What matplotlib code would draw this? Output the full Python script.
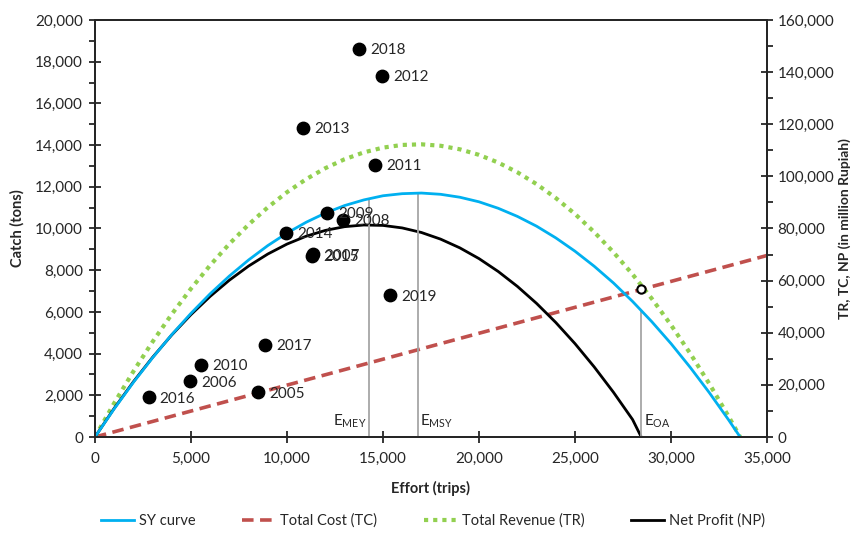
import matplotlib
matplotlib.use("Agg")
import matplotlib.pyplot as plt
from matplotlib.ticker import FuncFormatter, MultipleLocator

plt.rcParams["font.family"] = ["Lato", "DejaVu Sans"]
plt.rcParams["mathtext.fontset"] = "custom"
plt.rcParams["mathtext.rm"] = "Lato"
plt.rcParams["mathtext.it"] = "Lato:italic"
plt.rcParams["mathtext.bf"] = "Lato:bold"

# observed effort / catch by year
years = [2005, 2006, 2007, 2008, 2009, 2010, 2011, 2012, 2013, 2014,
         2015, 2016, 2017, 2018, 2019]
effort = [8500, 4970, 11340, 12920, 12070, 5530, 14600, 14960, 10850, 9970,
          11300, 2790, 8840, 13770, 15380]
catch = [2140, 2670, 8760, 10410, 10760, 3470, 13060, 17330, 14840, 9780,
         8700, 1900, 4430, 18620, 6790]

# model curves (effort grid in trips)
grid = [0, 1000, 2000, 3000, 4000, 5000, 6000, 7000, 8000, 9000, 10000,
        11000, 12000, 13000, 14000, 15000, 16000, 17000, 18000, 19000, 20000,
        21000, 22000, 23000, 24000, 25000, 26000, 27000, 28000, 29000, 30000,
        31000, 32000, 33000, 33600]
sy_catch = [0, 1350, 2620, 3800, 4910, 5930, 6870, 7720, 8490, 9180, 9780,
            10300, 10740, 11100, 11370, 11570, 11670, 11700, 11640, 11500, 11280,
            10970, 10580, 10110, 9550, 8910, 8190, 7390, 6500, 5530, 4480,
            3340, 2120, 820, 0]
tr_value = [0, 12970, 25150, 36530, 47120, 56910, 65900, 74100, 81500, 88110,
            93920, 98930, 103150, 106570, 109200, 111030, 112060, 112300, 111740,
            110390, 108250, 105300, 101560, 97020, 91690, 85570, 78630, 70920,
            62400, 53090, 42980, 32070, 20370, 7880, 0]
np_grid = [0, 1000, 2000, 3000, 4000, 5000, 6000, 7000, 8000, 9000, 10000,
           11000, 12000, 13000, 14000, 15000, 16000, 17000, 18000, 19000, 20000,
           21000, 22000, 23000, 24000, 25000, 26000, 27000, 28000, 28450]
np_value = [0, 10980, 21170, 30560, 39160, 46960, 53960, 60170, 65580, 70200,
            74020, 77040, 79270, 80700, 81340, 81180, 80220, 78470, 75920, 72580,
            68450, 63510, 57780, 51250, 43930, 35820, 26890, 17190, 6680, 0]
tc_effort = [0, 35000]
tc_value = [0, 69650]

# reference points: E_MEY, E_MSY, E_OA
ref_names = ["MEY", "MSY", "OA"]
ref_effort = [14280, 16800, 28450]
ref_catch = [11430, 11700, 6030]
oa_revenue = 56900

TEXT = "#262626"


def thousands(v, pos):
    return "{:,.0f}".format(v)


def style_axis(ax):
    for s in ax.spines.values():
        s.set_color("#262626")
        s.set_linewidth(1.4)
    ax.tick_params(which="major", direction="inout", length=9, width=1.3,
                   colors="#262626", labelsize=11, labelcolor=TEXT, pad=4)
    ax.tick_params(which="minor", direction="out", length=4, width=1.3,
                   colors="#262626")


fig = plt.figure(figsize=(8.57, 5.36), dpi=100)
ax = fig.add_axes([0.1108, 0.1847, 0.7842, 0.778])
ax2 = ax.twinx()

# revenue side (right axis)
l_tc, = ax2.plot(tc_effort, tc_value, color="#C0504D", lw=2.6,
                 ls=(0, (3.2, 1.8)), label="Total Cost (TC)")
l_tr, = ax2.plot(grid, tr_value, color="#92D050", lw=3.0,
                 ls=(0, (1, 1.2)), label="Total Revenue (TR)")
l_np, = ax2.plot(np_grid, np_value, color="black", lw=2.0,
                 label="Net Profit (NP)")
ax2.plot([ref_effort[2]], [oa_revenue], "o", ms=6, mfc="white", mec="black",
         mew=1.5, zorder=5)

# catch side (left axis)
l_sy, = ax.plot(grid, sy_catch, color="#00B0F0", lw=2.0, label="SY curve")
for e, c in zip(ref_effort, ref_catch):
    ax.plot([e, e], [0, c], color="#A6A6A6", lw=1.3, zorder=1)
ax.text(ref_effort[0] - 150, 330, r"E$_{\mathrm{" + ref_names[0] + "}}$",
        ha="right", va="bottom", fontsize=11, color=TEXT)
ax.text(ref_effort[1] + 150, 330, r"E$_{\mathrm{" + ref_names[1] + "}}$",
        ha="left", va="bottom", fontsize=11, color=TEXT)
ax.text(ref_effort[2] + 150, 330, r"E$_{\mathrm{" + ref_names[2] + "}}$",
        ha="left", va="bottom", fontsize=11, color=TEXT)

ax.scatter(effort, catch, s=80, color="black", zorder=6)
for yr, e, c in zip(years, effort, catch):
    ax.annotate(str(yr), (e, c), xytext=(8, -1), textcoords="offset points",
                ha="left", va="center", fontsize=11, color=TEXT, zorder=7)

# keep catch axis drawn on top of the revenue lines
ax.set_zorder(ax2.get_zorder() + 1)
ax.patch.set_visible(False)

ax.set_xlim(0, 35000)
ax.set_ylim(0, 20000)
ax2.set_ylim(0, 160000)
ax.xaxis.set_major_locator(MultipleLocator(5000))
ax.yaxis.set_major_locator(MultipleLocator(2000))
ax.yaxis.set_minor_locator(MultipleLocator(1000))
ax2.yaxis.set_major_locator(MultipleLocator(20000))
ax2.yaxis.set_minor_locator(MultipleLocator(10000))
ax.xaxis.set_major_formatter(FuncFormatter(thousands))
ax.yaxis.set_major_formatter(FuncFormatter(thousands))
ax2.yaxis.set_major_formatter(FuncFormatter(thousands))
style_axis(ax)
style_axis(ax2)
ax.tick_params(axis="x", pad=6)
ax2.tick_params(axis="y", which="major", pad=3)

ax.set_xlabel("Effort (trips)", fontsize=10.5, fontweight="bold", color=TEXT,
              labelpad=11)
ax.set_ylabel("Catch (tons)", fontsize=10.5, fontweight="bold", color=TEXT,
              labelpad=8)
ax2.set_ylabel("TR, TC, NP (in million Rupiah)", fontsize=10,
               fontweight="bold", color=TEXT, labelpad=3)

fig.legend(handles=[l_sy, l_tc, l_tr, l_np], loc="center",
           bbox_to_anchor=(0.505, 0.028), ncol=4, frameon=False, fontsize=10.5,
           handlelength=2.3, handletextpad=0.3, columnspacing=3.2,
           labelcolor=TEXT)

fig.savefig("out.png", dpi=100, facecolor="white")
